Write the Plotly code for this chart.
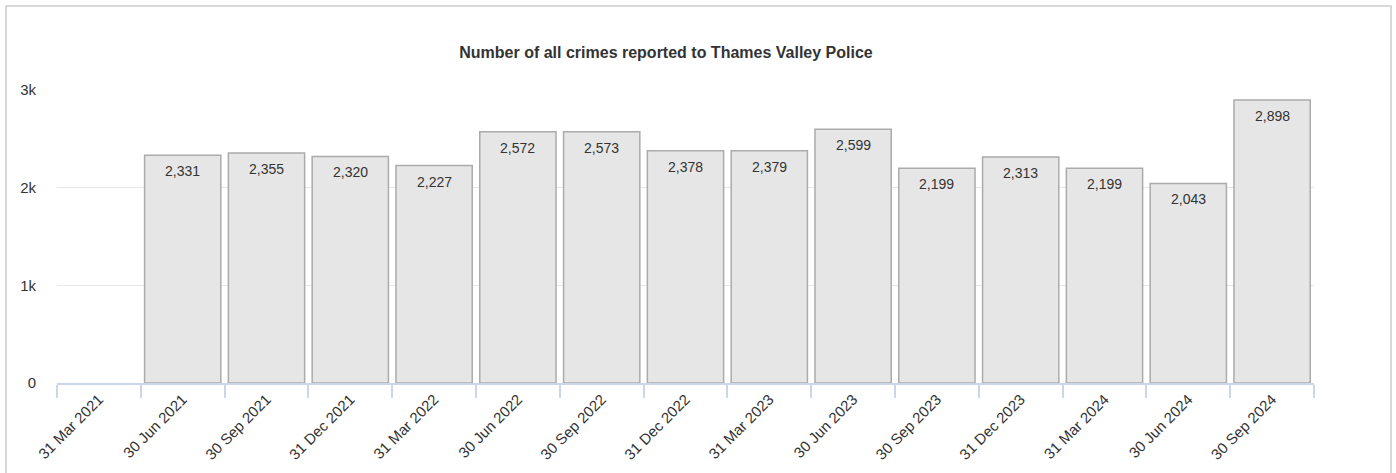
import plotly.graph_objects as go

categories = ["31 Mar 2021", "30 Jun 2021", "30 Sep 2021", "31 Dec 2021", "31 Mar 2022",
              "30 Jun 2022", "30 Sep 2022", "31 Dec 2022", "31 Mar 2023", "30 Jun 2023",
              "30 Sep 2023", "31 Dec 2023", "31 Mar 2024", "30 Jun 2024", "30 Sep 2024"]
crimes = [None, 2331, 2355, 2320, 2227, 2572, 2573, 2378, 2379, 2599, 2199, 2313, 2199, 2043, 2898]
y_tickvals = [0, 1000, 2000, 3000]
y_ticktext = ["0", "1k", "2k", "3k"]
title = "Number of all crimes reported to Thames Valley Police"

W, H = 1396, 473
L, R, T, B = 57, 82, 90, 90
pw, ph = W - L - R, H - T - B

fig = go.Figure()
fig.add_trace(go.Bar(
    x=categories, y=crimes,
    marker=dict(color="#e6e6e6", line=dict(color="#ababab", width=1.5)),
    width=0.91, hoverinfo="x+y", showlegend=False,
))

for c, v in zip(categories, crimes):
    if v is None:
        continue
    fig.add_annotation(x=c, y=v, text=f"{v:,}", showarrow=False, yanchor="top",
                       yshift=-6, font=dict(family="Liberation Sans, Arial", size=14, color="#333333"))

# chart frame
def px_x(p):
    return (p - L) / pw
def px_y(p):
    return (H - B - p) / ph
fig.add_shape(type="rect", xref="paper", yref="paper",
              x0=px_x(6), x1=px_x(1391), y0=px_y(480), y1=px_y(6),
              line=dict(color="#cccccc", width=1.5), fillcolor="rgba(0,0,0,0)", layer="below")

fig.update_layout(
    width=W, height=H,
    margin=dict(l=L, r=R, t=T, b=B, autoexpand=False),
    paper_bgcolor="white", plot_bgcolor="white",
    font=dict(family="Liberation Sans, Arial", color="#333333"),
    title=dict(text=f"<b>{title}</b>", x=px_x(666), xref="paper", xanchor="center",
               y=(H - 52) / H, yanchor="middle",
               font=dict(size=16, color="#333333")),
    bargap=0.09,
    xaxis=dict(type="category", tickson="boundaries", ticks="outside", ticklen=13,
               tickcolor="#ccd6eb", tickwidth=1.5, showline=True, linecolor="#ccd6eb",
               linewidth=1.5, showgrid=False, tickangle=-45,
               tickfont=dict(size=15, color="#333333"), range=[-0.5, 14.5]),
    yaxis=dict(range=[0, 3000], tickvals=y_tickvals, ticktext=y_ticktext,
               showgrid=True, gridcolor="#e6e6e6", gridwidth=1, zeroline=False,
               showline=False, ticks="", ticklabelstandoff=20,
               tickfont=dict(size=15, color="#333333")),
)

fig.write_html("out.html", config={"displayModeBar": False},
               post_script="document.body.style.margin='0';document.body.style.overflow='hidden';")
